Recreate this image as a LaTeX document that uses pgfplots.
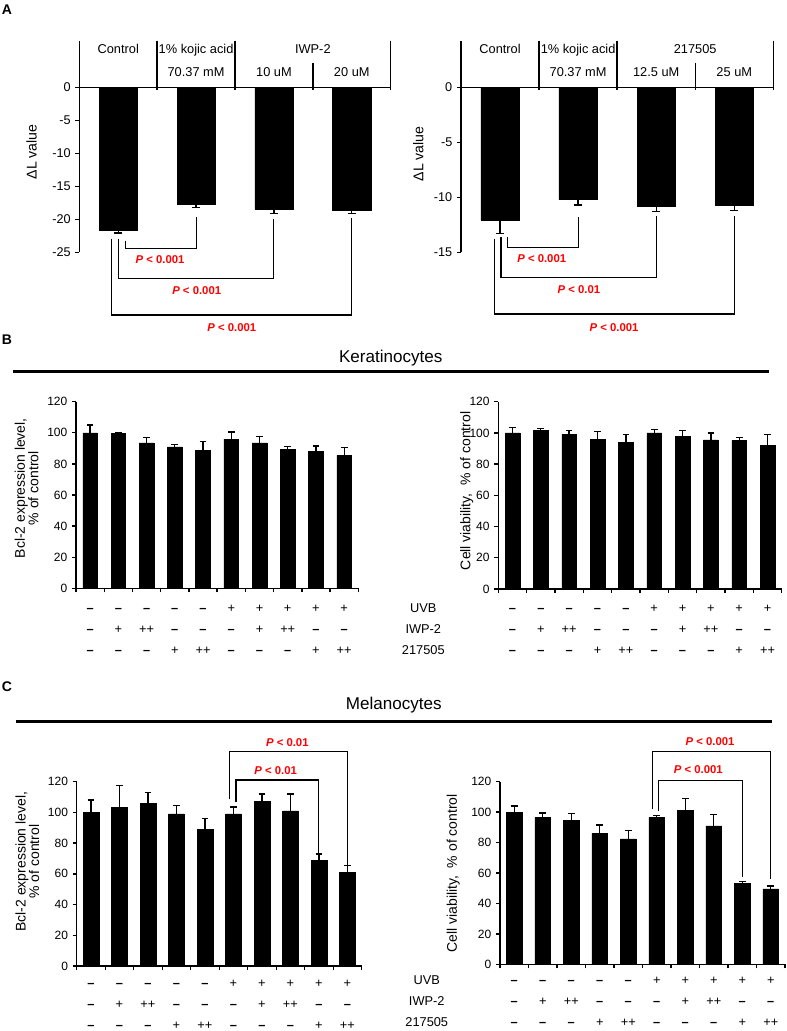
\documentclass[border=0pt]{standalone}
\usepackage{fontspec}
\setmainfont{Liberation Sans}
\usepackage{pgfplots}
\pgfplotsset{compat=1.18}

% 1 px of the reference = 0.75pt
\newcommand\px{*0.75pt}
\newcommand\mn{\textbf{--}}
\newcommand\sg[3]{\strut#1\\\strut#2\\\strut#3}
\newcommand\pv[1]{\textit{P} < #1}

\pgfplotsset{
  base/.style={
    scale only axis, clip=false,
    anchor=south west,
    /pgf/number format/assume math mode=true,
    tick align=outside, major tick length=3pt,
    axis line style={line width=1pt},
    every tick/.style={black, line width=1pt},
    ylabel style={anchor=center},
  },
  abase/.style={
    base, xmin=-0.5, xmax=3.5,
    axis x line=none, axis y line*=left,
    xtick=\empty, ytick={-25,-20,-15,-10,-5,0},
    tick label style={font=\fontsize{9.5}{11}\selectfont},
    ylabel style={font=\fontsize{10.6}{12}\selectfont},
  },
  bc/.style={
    base, xmin=-0.5, xmax=9.5, ymin=0, ymax=120,
    axis lines*=left,
    ytick={0,20,40,60,80,100,120},
    xtick={-0.5,0.5,1.5,2.5,3.5,4.5,5.5,6.5,7.5,8.5,9.5},
    xticklabels={},
    extra x ticks={0,1,2,3,4,5,6,7,8,9},
    extra x tick labels={\sg{\mn}{\mn}{\mn},\sg{\mn}{+}{\mn},\sg{\mn}{++}{\mn},
      \sg{\mn}{\mn}{+},\sg{\mn}{\mn}{++},\sg{+}{\mn}{\mn},\sg{+}{+}{\mn},
      \sg{+}{++}{\mn},\sg{+}{\mn}{+},\sg{+}{\mn}{++}},
    extra x tick style={major tick length=0pt,
      tick label style={font=\fontsize{9.6}{15.75}\selectfont, align=center,
        anchor=north, inner sep=0pt, yshift=#1}},
    tick label style={font=\fontsize{9}{10}\selectfont},
    ylabel style={font=\fontsize{10.5}{10}\selectfont, align=center},
  },
  bc/.default=-6.7pt,
  abar/.style={ybar, bar width=0.49, fill=black, draw=black,
    error bars/.cd, y dir=minus, y explicit,
    error bar style={line width=1pt, black},
    error mark options={rotate=90, mark size=3pt, line width=1pt, black}},
  bcbar/.style={ybar, bar width=#1, fill=black, draw=black,
    error bars/.cd, y dir=plus, y explicit,
    error bar style={line width=1pt, black},
    error mark options={rotate=90, mark size=2.5pt, line width=1pt, black}},
}
\tikzset{
  br/.style={line width=0.8pt, black},
  plab/.style={text=red, font=\fontsize{8.5}{10}\selectfont\bfseries, inner sep=0pt},
  hd/.style={font=\fontsize{9.6}{11}\selectfont, anchor=base, inner sep=0pt},
  rowlab/.style={font=\fontsize{9.6}{15.75}\selectfont, align=center,
    anchor=north, inner sep=0pt, yshift=#1},
  rowlab/.default=-6.7pt,
}

% header boxes above the panel A bars
\newcommand\aheader[3]{%
  \draw[line width=1pt] (axis cs:-0.5,0) -- (axis cs:3.5,0);
  \draw[line width=1pt]
    (rel axis cs:0.25,1) -- (rel axis cs:0.25,0.767)
    (rel axis cs:0.5,1) -- (rel axis cs:0.5,0.767)
    (rel axis cs:1,1) -- (rel axis cs:1,0.767)
    (rel axis cs:0.75,0.895) -- (rel axis cs:0.75,0.767);
  \node[hd] at (rel axis cs:0.125,0.94) {Control};
  \node[hd] at (rel axis cs:0.375,0.94) {1\% kojic acid};
  \node[hd] at (rel axis cs:0.75,0.94) {#1};
  \node[hd] at (rel axis cs:0.375,0.832) {70.37 mM};
  \node[hd] at (rel axis cs:0.625,0.832) {#2};
  \node[hd] at (rel axis cs:0.875,0.832) {#3};
}

\begin{document}
\begin{tikzpicture}
\useasboundingbox (0,0) rectangle (787\px,-1031\px);

% ---------- A, left ----------
\begin{axis}[abase, at={(79.3\px,-252.3\px)},
  width=233.55pt, height=158.7pt, ymin=-25, ymax=7.06,
  ylabel={ΔL value},
  ylabel style={at={(axis description cs:-0.153,0.475)}}]
\addplot[abar] table[x=x, y=y, y error=e] {
x y e
0 -21.6 0.5
1 -17.7 0.5
2 -18.5 0.6
3 -18.6 0.5
};
\aheader{IWP-2}{10 uM}{20 uM}
\draw[br] (axis cs:0.091,-23.24) -- (axis cs:0.091,-24.39) -- (axis cs:1,-24.39) -- (axis cs:1,-19.7);
\node[plab] at (axis cs:0.537,-26.17) {\pv{0.001}};
\draw[br] (axis cs:0,-22.98) -- (axis cs:0,-28.94) -- (axis cs:2,-28.94) -- (axis cs:2,-19.95);
\node[plab] at (axis cs:1.008,-30.86) {\pv{0.001}};
\draw[br] (axis cs:-0.089,-22.98) -- (axis cs:-0.089,-34.5) -- (axis cs:3,-34.5) -- (axis cs:3,-19.85);
\node[plab] at (axis cs:1.46,-36.4) {\pv{0.001}};
\end{axis}

% ---------- A, right ----------
\begin{axis}[abase, at={(461\px,-252.3\px)},
  width=234.225pt, height=158.7pt, ymin=-15, ymax=4.236,
  ytick={-15,-10,-5,0},
  ylabel={ΔL value},
  ylabel style={at={(axis description cs:-0.137,0.465)}}]
\addplot[abar] table[x=x, y=y, y error=e] {
x y e
0 -12.1 1.2
1 -10.2 0.5
2 -10.8 0.5
3 -10.7 0.5
};
\aheader{217505}{12.5 uM}{25 uM}
\draw[br] (axis cs:0.098,-13.64) -- (axis cs:0.098,-14.55) -- (axis cs:1,-14.55) -- (axis cs:1,-11.76);
\node[plab] at (axis cs:0.534,-15.55) {\pv{0.001}};
\draw[br] (axis cs:0.012,-13.64) -- (axis cs:0.012,-17.27) -- (axis cs:2,-17.27) -- (axis cs:2,-11.7);
\node[plab] at (axis cs:1.01,-18.43) {\pv{0.01}};
\draw[br] (axis cs:-0.074,-13.76) -- (axis cs:-0.074,-20.61) -- (axis cs:3,-20.61) -- (axis cs:3,-11.7);
\node[plab] at (axis cs:1.46,-21.85) {\pv{0.001}};
\end{axis}

% ---------- B, left ----------
\begin{axis}[bc, at={(76\px,-588.3\px)},
  width=211.725pt, height=139.95pt,
  ylabel={Bcl-2 expression level,\\\% of control},
  ylabel style={at={(axis description cs:-0.175,0.536)}}]
\addplot[bcbar=0.52] table[x=x, y=y, y error=e] {
x y e
0 100 5
1 99.5 0.5
2 93.5 3.5
3 91 1.5
4 88.5 6
5 96 4.5
6 93.5 4
7 89.5 1.5
8 88 3.5
9 85.5 5
};
\end{axis}

% ---------- B, right ----------
\begin{axis}[bc, at={(498.3\px,-589\px)},
  width=212.55pt, height=140.475pt,
  ylabel={Cell viability,\ \ \% of control},
  ylabel style={at={(axis description cs:-0.1115,0.524)}}]
\addplot[bcbar=0.52] table[x=x, y=y, y error=e] {
x y e
0 100 3.5
1 101.5 1.5
2 99 2.5
3 96 5
4 94 5
5 100 2
6 98 3.5
7 95.5 4.5
8 95 2
9 92 7
};
\node[rowlab] at (rel axis cs:-0.2646,0) {\strut UVB\\\strut IWP-2\\\strut 217505};
\end{axis}

% ---------- C, left ----------
\begin{axis}[bc=-5.2pt, at={(76.7\px,-966\px)},
  width=213.75pt, height=138.225pt,
  ylabel={Bcl-2 expression level,\\\% of control},
  ylabel style={at={(axis description cs:-0.173,0.566)}}]
\addplot[bcbar=0.55] table[x=x, y=y, y error=e] {
x y e
0 100 8
1 103.5 14
2 106 7
3 99 5.5
4 89 7
5 99 4.5
6 107 5
7 101 11
8 69 4
9 61 4.3
};
\draw[br] (axis cs:4.85,108.5) -- (axis cs:4.85,139.5) -- (axis cs:9,139.5) -- (axis cs:9,64.6);
\node[plab] at (axis cs:6.89,145.6) {\pv{0.01}};
\draw[br] (axis cs:5.09,107) -- (axis cs:5.09,121.1) -- (axis cs:8,121.1) -- (axis cs:8,71.2);
\node[plab] at (axis cs:6.48,127) {\pv{0.01}};
\end{axis}

% ---------- C, right ----------
\begin{axis}[bc=-4pt, at={(500\px,-964.3\px)},
  width=213.75pt, height=136.95pt,
  ylabel={Cell viability,\ \ \% of control},
  ylabel style={at={(axis description cs:-0.164,0.498)}}]
\addplot[bcbar=0.55] table[x=x, y=y, y error=e] {
x y e
0 100 4
1 96.5 3
2 94.5 4.5
3 86 5.5
4 82.5 5.5
5 96.5 1.5
6 101 8
7 91 7.5
8 53 1.5
9 49.5 2
};
\draw[br] (axis cs:4.86,101.8) -- (axis cs:4.86,139.7) -- (axis cs:9,139.7) -- (axis cs:9,55.8);
\node[plab] at (axis cs:6.87,146.3) {\pv{0.001}};
\draw[br] (axis cs:5.07,100.7) -- (axis cs:5.07,121.1) -- (axis cs:8,121.1) -- (axis cs:8,57.6);
\node[plab] at (axis cs:6.46,127.7) {\pv{0.001}};
\node[rowlab=-4pt] at (rel axis cs:-0.257,0) {\strut UVB\\\strut IWP-2\\\strut 217505};
\end{axis}

% panel letters and cell-type headings
\node[anchor=base west, inner sep=0pt, font=\fontsize{10.5}{12}\selectfont\bfseries] at (1.5\px,-15\px) {A};
\node[anchor=base west, inner sep=0pt, font=\fontsize{10.5}{12}\selectfont\bfseries] at (1.5\px,-344\px) {B};
\node[anchor=base west, inner sep=0pt, font=\fontsize{10.5}{12}\selectfont\bfseries] at (1.5\px,-691.7\px) {C};
\node[anchor=base, inner sep=0pt, font=\fontsize{12.8}{14}\selectfont] at (390.7\px,-362\px) {Keratinocytes};
\draw[line width=2.25pt] (13.3\px,-371.7\px) -- (769.3\px,-371.7\px);
\node[anchor=base, inner sep=0pt, font=\fontsize{12.8}{14}\selectfont] at (393.8\px,-709\px) {Melanocytes};
\draw[line width=2.25pt] (16\px,-721.7\px) -- (771.7\px,-721.7\px);
\end{tikzpicture}
\end{document}
